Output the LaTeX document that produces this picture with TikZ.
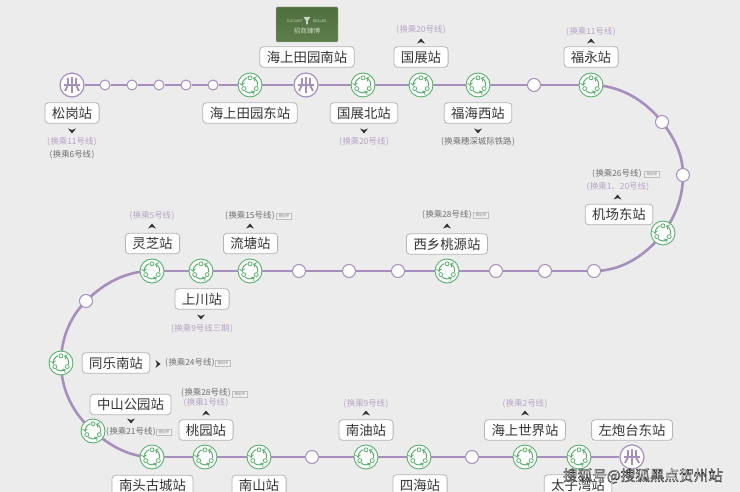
\documentclass[tikz,border=0pt]{standalone}
\usepackage{fontspec}
\setmainfont{Noto Sans CJK SC}
\usetikzlibrary{backgrounds}

\definecolor{linepurple}{HTML}{A78FBB}
\definecolor{stopgreen}{HTML}{58B06C}
\definecolor{paper}{HTML}{ECECEC}
\definecolor{nameedge}{HTML}{B4B4B4}
\definecolor{nametext}{HTML}{333333}
\definecolor{openline}{HTML}{B7A3C6}
\definecolor{planline}{HTML}{707070}
\definecolor{logotop}{HTML}{4F6F3E}
\definecolor{logobottom}{HTML}{5E7D4C}
\definecolor{logotext}{HTML}{CBD6C0}

\newcommand{\hc}[1]{(\hspace{.5pt}换乘#1\hspace{.5pt})}
\newcommand{\greenicon}{
	\begin{scope}[shift={(path picture bounding box.center)}]
		\draw[stopgreen,line width=.8pt] (90:7.2pt) circle[radius=2pt];
		\draw[stopgreen,line width=.8pt] (210:7.2pt) circle[radius=2pt];
		\draw[stopgreen,line width=.8pt] (330:7.2pt) circle[radius=2pt];
		\draw[stopgreen,line width=1pt,-to] (112:7.8pt) arc[start angle=112,end angle=186,radius=7.8pt];
		\draw[stopgreen,line width=1pt,-to] (232:7.8pt) arc[start angle=232,end angle=306,radius=7.8pt];
		\draw[stopgreen,line width=1pt,-to] (352:7.8pt) arc[start angle=352,end angle=426,radius=7.8pt];
	\end{scope}
}
\newcommand{\metroicon}{
	\begin{scope}[shift={(path picture bounding box.center)},linepurple,line width=1.9pt]
		\draw (-8pt,0pt) -- (8pt,0pt);
		\draw (0pt,8pt) -- (0pt,-8pt);
		\draw (-4pt,7pt) -- (-4pt,0pt) -- (-7pt,-6pt);
		\draw (4pt,7pt) -- (4pt,0pt) -- (7pt,-6pt);
	\end{scope}
}

\tikzset{
	metroline/.style={color=linepurple,line width=2.6pt},
	curveline/.style={metroline,looseness=.9},
	greenstop/.style={circle,draw=stopgreen,fill=white,line width=.9pt,minimum size=24pt,inner sep=0pt,path picture={\greenicon}},
	metrostop/.style={circle,draw=linepurple,fill=white,line width=1.2pt,minimum size=24pt,inner sep=0pt,path picture={\metroicon}},
	whitestop/.style={circle,draw=linepurple,fill=white,line width=1pt,minimum size=13pt,inner sep=0pt},
	smallstop/.style={circle,draw=linepurple,fill=white,line width=1pt,minimum size=10pt,inner sep=0pt},
	namebox/.style={draw=nameedge,fill=white,rounded corners=3.5pt,line width=.8pt,text=nametext,font=\fontsize{13.4}{14}\selectfont,minimum height=20.5pt,inner sep=0pt,inner xsep=7pt},
	openlabel/.style={text=openline,font=\fontsize{8.4}{9}\selectfont,inner sep=0pt},
	planlabel/.style={text=planline,font=\fontsize{8.4}{9}\selectfont,inner sep=0pt},
	plantag/.style={draw=black!25,fill=black!6,line width=.3pt,text=black!50,font=\fontsize{3.6}{4}\selectfont,inner sep=0pt,minimum width=15pt,minimum height=5.5pt},
	chevron/.style={fill=black!80}
}

\begin{document}
\begin{tikzpicture}[x=1pt,y=-1pt]
	\useasboundingbox (0,0) rectangle (740,492);

	% stations
	\foreach \x/\y/\n in {250/85/a6,363/85/a8,421/85/a9,478/85/a10,591/85/a12,663/233/b3,447/271/b7,250/271/b11,201/271/b12,152/271/b13,61/363/c2,93/431/c3,152/457/c4,205/457/c5,259/457/c6,366/457/c8,419/457/c9,525/457/c11,579/457/c12}
		\node[greenstop] (\n) at (\x,\y) {};
	\foreach \x/\y/\n in {72/85/a0,306/85/a7,632/457/c13}
		\node[metrostop] (\n) at (\x,\y) {};
	\foreach \x/\n in {105/a1,132/a2,159/a3,186/a4,213/a5}
		\node[smallstop] (\n) at (\x,85) {};
	\foreach \x/\y/\n in {534/85/a11,662/122/b1,683/175/b2,594/271/b4,545/271/b5,496/271/b6,398/271/b8,349/271/b9,299/271/b10,86/301/c1,312/457/c7,472/457/c10}
		\node[whitestop] (\n) at (\x,\y) {};

	% the line
	\begin{scope}[on background layer]
		\fill[paper] (0,0) rectangle (740,492);
		\draw[metroline] (a0) -- (a1) -- (a2) -- (a3) -- (a4) -- (a5) -- (a6) -- (a7) -- (a8) -- (a9) -- (a10) -- (a11) -- (a12);
		\draw[curveline] (a12.center) to[out=0,in=128] (b1.center);
		\draw[curveline] (b1.center) to[out=-52,in=90] (b2.center);
		\draw[curveline] (b2.center) to[out=-90,in=53] (b3.center);
		\draw[curveline] (b3.center) to[out=-127,in=0] (b4.center);
		\draw[metroline] (b4) -- (b5) -- (b6) -- (b7) -- (b8) -- (b9) -- (b10) -- (b11) -- (b12) -- (b13);
		\draw[curveline] (b13.center) to[out=180,in=45] (c1.center);
		\draw[curveline] (c1.center) to[out=225,in=90] (c2.center);
		\draw[curveline] (c2.center) to[out=-90,in=139] (c3.center);
		\draw[curveline] (c3.center) to[out=-41,in=180] (c4.center);
		\draw[metroline] (c4) -- (c5) -- (c6) -- (c7) -- (c8) -- (c9) -- (c10) -- (c11) -- (c12) -- (c13);
	\end{scope}

	% names
	\node[namebox] (songgang) at (72,113) {松岗站};
	\node[namebox] (tianyuandong) at (250,113) {海上田园东站};
	\node[namebox] (tianyuannan) at (307,57) {海上田园南站};
	\node[namebox] (guozhanbei) at (364,113) {国展北站};
	\node[namebox] (guozhan) at (421,57) {国展站};
	\node[namebox] (fuhaixi) at (478,113) {福海西站};
	\node[namebox] (fuyong) at (591,57) {福永站};
	\node[namebox] (jichangdong) at (619,214.5) {机场东站};
	\node[namebox] (xixiang) at (447,244) {西乡桃源站};
	\node[namebox] (liutang) at (250.5,243.5) {流塘站};
	\node[namebox] (lingzhi) at (152.5,243.5) {灵芝站};
	\node[namebox] (shangchuan) at (202,299) {上川站};
	\node[namebox] (tongle) at (116,363) {同乐南站};
	\node[namebox] (zhongshan) at (130.5,404.5) {中山公园站};
	\node[namebox] (taoyuan) at (206,430) {桃园站};
	\node[namebox] (nantou) at (152.5,485.5) {南头古城站};
	\node[namebox] (nanshan) at (259,485.5) {南山站};
	\node[namebox] (nanyou) at (366,430) {南油站};
	\node[namebox] (sihai) at (420,485) {四海站};
	\node[namebox] (shijie) at (525,430) {海上世界站};
	\node[namebox] (zuopaotai) at (632,430) {左炮台东站};
	\node[namebox] (taizi) at (578,485) {太子湾站};

	% transfers
	\node[openlabel] (t1) at (72,142) {\hc{11号线}};
	\node[planlabel] (t2) at (72,155) {\hc{6号线}};
	\node[openlabel] (t3) at (364,142) {\hc{20号线}};
	\node[planlabel] (t4) at (478,142) {\hc{穗深城际铁路}};
	\node[openlabel] (t5) at (421,30) {\hc{20号线}};
	\node[openlabel] (t6) at (591,32) {\hc{11号线}};
	\node[openlabel] (t7) at (152,216) {\hc{5号线}};
	\node[planlabel] (t8) at (250,216) {\hc{15号线}};
	\node[openlabel] (t9) at (202,329) {\hc{9号线三期}};
	\node[planlabel] (t10) at (447,215) {\hc{28号线}};
	\node[planlabel] (t11) at (617,174) {\hc{26号线}};
	\node[openlabel] (t12) at (618,187) {\hc{1、20号线}};
	\node[planlabel] (t13) at (190,363) {\hc{24号线}};
	\node[planlabel] (t14) at (131,432) {\hc{21号线}};
	\node[planlabel] (t15) at (206,393) {\hc{28号线}};
	\node[openlabel] (t16) at (206,403) {\hc{1号线}};
	\node[openlabel] (t17) at (366,404) {\hc{9号线}};
	\node[openlabel] (t18) at (525,404) {\hc{2号线}};
	\foreach \x/\y/\n in {284/216/p1,481/215/p2,652/174/p3,223/363/p4,164/432/p5,240/394/p6}
		\node[plantag] (\n) at (\x,\y) {规划中};

	% little arrows
	\foreach \x/\y/\r in {72/131/180,364/131/180,478/131/180,201/317/180,131/421/180,421/41/0,591/41/0,152/226/0,250/226/0,447/226/0,617.5/197/0,206/413/0,366/413/0,525/413/0,158/364/-90}
		\fill[chevron,shift={(\x,\y)},rotate=\r] (-4,2.5) -- (0,-2.5) -- (4,2.5) -- (0,1) -- cycle;

	% logo
	\shade[top color=logotop,bottom color=logobottom,draw=black!30,line width=.4pt,rounded corners=1pt] (276,7) rectangle (338,42);
	\fill[logotext] (303.5,17) -- (310.5,17) -- (307.8,21) -- (307.8,24.5) -- (306.2,24.5) -- (306.2,21) -- cycle;
	\node[text=logotext,font=\fontsize{3.6}{4}\selectfont,inner sep=0pt] (logoen) at (307,21.5) {ELEGANT\hspace{10pt}REALMS};
	\node[text=logotext,font=\fontsize{6.6}{7}\selectfont,inner sep=0pt] (logocn) at (307,30.5) {招商臻博};

	% mark
	\node[text=white,font=\fontsize{14.6}{15}\selectfont,inner sep=0pt] (mark) at (643,476) {\special{pdf:code 2 Tr 0.4 w 0.15 0.15 0.15 RG}搜狐号@搜狐黑点贺州站\special{pdf:code 0 Tr}};
\end{tikzpicture}
\end{document}
